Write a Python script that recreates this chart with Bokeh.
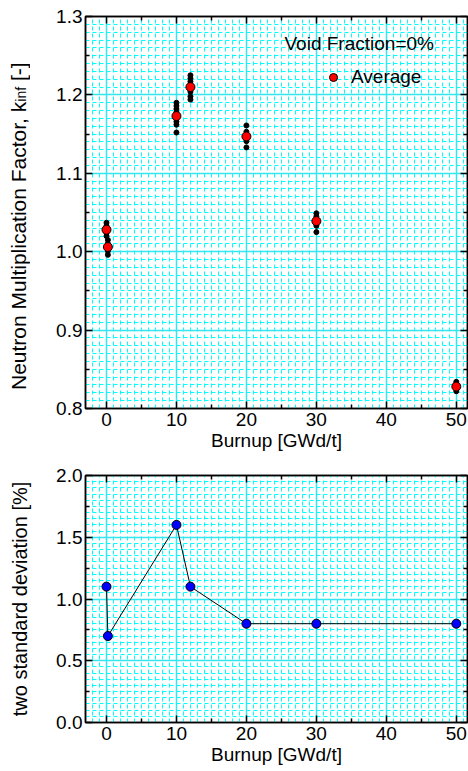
from bokeh.plotting import figure
from bokeh.models import (Range1d, LinearAxis, FixedTicker, SingleIntervalTicker, Grid,
                          Label, Legend, LegendItem, PrintfTickFormatter, Div)
from bokeh.layouts import column, row
from bokeh.embed import file_html
from bokeh.resources import INLINE

# ---------------- data ----------------
burnup_avg = [0.0, 0.2, 10.0, 12.0, 20.0, 30.0, 50.0]
kinf_avg = [1.028, 1.006, 1.173, 1.210, 1.147, 1.039, 0.828]

samples_b0a = [1.037, 1.033, 1.028, 1.024, 1.020]
samples_b0b = [1.015, 1.010, 1.006, 1.001, 0.996]
samples_b10 = [1.190, 1.186, 1.182, 1.178, 1.175, 1.170, 1.166, 1.162, 1.152]
samples_b12 = [1.225, 1.221, 1.217, 1.213, 1.208, 1.204, 1.198, 1.194]
samples_b20 = [1.161, 1.153, 1.149, 1.145, 1.141, 1.133]
samples_b30 = [1.049, 1.045, 1.041, 1.037, 1.033, 1.025]
samples_b50 = [0.834, 0.830, 0.826, 0.822]
sample_groups = [samples_b0a, samples_b0b, samples_b10, samples_b12,
                 samples_b20, samples_b30, samples_b50]

burnup_sd = [0.0, 0.2, 10.0, 12.0, 20.0, 30.0, 50.0]
two_sd = [1.1, 0.7, 1.6, 1.1, 0.8, 0.8, 0.8]

x_major = [0, 10, 20, 30, 40, 50]
x_minor = [5, 15, 25, 35, 45]
k_major = [0.8, 0.9, 1.0, 1.1, 1.2, 1.3]
k_minor = [0.85, 0.95, 1.05, 1.15, 1.25]
sd_major = [0.0, 0.5, 1.0, 1.5, 2.0]
sd_minor = [0.25, 0.75, 1.25, 1.75]

FONT = "Liberation Sans"
CYAN = "#00FFFF"
CYAN_MAJOR = "#33E6F0"

X0, X1 = -3.0, 51.6
K0, K1 = 0.8, 1.3


def style_axis(ax, labels=True, size="19px"):
    ax.major_tick_in = 7
    ax.major_tick_out = 0
    ax.minor_tick_in = 4
    ax.minor_tick_out = 0
    ax.axis_line_width = 1.5
    ax.axis_line_color = "black"
    ax.major_tick_line_width = 1.5
    ax.major_tick_line_color = "black"
    ax.minor_tick_line_width = 1.5
    ax.minor_tick_line_color = "black"
    ax.major_label_text_font = FONT
    ax.major_label_text_color = "black"
    ax.axis_label_text_font = FONT
    ax.axis_label_text_font_style = "normal"
    ax.axis_label_text_color = "black"
    if labels:
        ax.major_label_text_font_size = size
        ax.major_label_standoff = 4
    else:
        ax.major_label_text_font_size = "0px"
        ax.major_label_text_alpha = 0
        ax.major_label_standoff = 0


def build(p, x_t, y_t, fine_dy):
    p.add_layout(Grid(dimension=0, ticker=SingleIntervalTicker(interval=1, num_minor_ticks=0),
                      grid_line_color=CYAN, grid_line_dash="4 3", grid_line_width=1))
    p.add_layout(Grid(dimension=1, ticker=SingleIntervalTicker(interval=fine_dy, num_minor_ticks=0),
                      grid_line_color=CYAN, grid_line_dash="4 3", grid_line_width=1))
    p.add_layout(Grid(dimension=0, ticker=x_t, grid_line_color=CYAN_MAJOR, grid_line_width=1.5))
    p.add_layout(Grid(dimension=1, ticker=y_t, grid_line_color=CYAN_MAJOR, grid_line_width=1.5))

    xb = LinearAxis(ticker=x_t, axis_label="Burnup [GWd/t]")
    style_axis(xb)
    xb.axis_label_text_font_size = "19px"
    xb.axis_label_standoff = 1
    p.add_layout(xb, "below")
    xa = LinearAxis(ticker=x_t)
    style_axis(xa, labels=False)
    p.add_layout(xa, "above")

    yl = LinearAxis(ticker=y_t, formatter=PrintfTickFormatter(format="%.1f"))
    style_axis(yl)
    yl.major_label_standoff = 3
    p.add_layout(yl, "left")
    yr = LinearAxis(ticker=y_t)
    style_axis(yr, labels=False)
    p.add_layout(yr, "right")
    return yl


# ---------------- top plot ----------------
LBL_W = 40
p1 = figure(width=468 - LBL_W, height=460, x_range=Range1d(X0, X1), y_range=Range1d(K0, K1),
            x_axis_type=None, y_axis_type=None, output_backend="svg", toolbar_location=None,
            min_border_left=85 - LBL_W, min_border_right=1, min_border_top=16,
            min_border_bottom=52)
p1.outline_line_color = "black"
p1.outline_line_width = 1.5
xt1 = FixedTicker(ticks=x_major, minor_ticks=x_minor)
yt1 = FixedTicker(ticks=k_major, minor_ticks=k_minor)
build(p1, xt1, yt1, 0.01)

s_x, s_y = [], []
for bx, grp in zip(burnup_avg, sample_groups):
    s_x += [bx] * len(grp)
    s_y += grp
p1.scatter(x=s_x, y=s_y, size=5, color="black")
avg_r = p1.scatter(x=burnup_avg, y=kinf_avg, size=9, fill_color="#FF0000",
                   line_color="black", line_width=1)

legend = Legend(items=[LegendItem(label="Average", renderers=[avg_r])], location=(238, 320),
                padding=0, margin=0, glyph_width=20, glyph_height=20, label_standoff=8,
                label_text_font=FONT, label_text_font_size="19px", label_text_color="black",
                border_line_alpha=0, background_fill_alpha=0)
p1.add_layout(legend)

p1.add_layout(Label(x=199, y=365, x_units="screen", y_units="screen", text="Void Fraction=0%",
                    text_font=FONT, text_font_size="19px", text_color="black",
                    text_align="left", text_baseline="middle"))

# y-axis title with subscript, as rotated HTML text beside the plot
ylabel_html = (
    '<div style="box-sizing:border-box; width:40px; height:460px; padding-top:70px; '
    'writing-mode:vertical-rl; transform:rotate(180deg); font-family:\'Liberation Sans\'; '
    'font-size:21px; line-height:38px; color:black; white-space:nowrap;">'
    'Neutron Multiplication Factor, k<sub style="font-size:14px; vertical-align:-2px;">inf</sub> [-]'
    '</div>'
)
ylab1 = Div(text=ylabel_html, width=LBL_W, height=460, margin=0)

# ---------------- bottom plot ----------------
p2 = figure(width=468, height=311, x_range=Range1d(X0, X1), y_range=Range1d(0.0, 2.0),
            x_axis_type=None, y_axis_type=None, output_backend="svg", toolbar_location=None,
            min_border_left=85, min_border_right=1, min_border_top=15, min_border_bottom=49)
p2.outline_line_color = "black"
p2.outline_line_width = 1.5
xt2 = FixedTicker(ticks=x_major, minor_ticks=x_minor)
yt2 = FixedTicker(ticks=sd_major, minor_ticks=sd_minor)
yl2 = build(p2, xt2, yt2, 0.05)
yl2.axis_label = "two standard deviation [%]"
yl2.axis_label_text_font_size = "20px"
yl2.axis_label_standoff = 22

p2.line(x=burnup_sd, y=two_sd, line_color="black", line_width=1)
p2.scatter(x=burnup_sd, y=two_sd, size=9, fill_color="#0000FF", line_color="black",
           line_width=1)

layout = column(row(ylab1, p1, spacing=0), p2, spacing=0)
open("out.html", "w").write(file_html(layout, INLINE))
